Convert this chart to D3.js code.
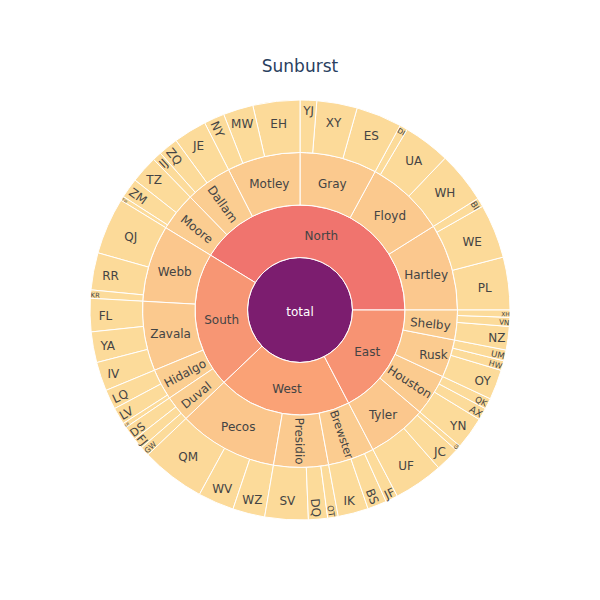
<!DOCTYPE html>
<html>
<head>
<meta charset="utf-8">
<script src="https://cdn.jsdelivr.net/npm/d3@7"></script>
<style>
  html, body { margin: 0; padding: 0; background: #fff; }
  svg { display: block; }
</style>
</head>
<body>
<svg id="chart" width="600" height="600"></svg>
<script>
// ---------------- data ----------------
const titleText = "Sunburst";
const rootLabel = "total";
const rootColor = 1.0;

const regions = ["North", "South", "West", "East"];
const regionColor = [0.333, 0.215, 0.175, 0.225];

const counties = ["Hartley", "Floyd", "Gray", "Motley", "Dallam", "Moore",
                  "Webb", "Zavala", "Hidalgo", "Duval",
                  "Pecos", "Presidio", "Brewster",
                  "Tyler", "Houston", "Rusk", "Shelby"];
const countyRegion = ["North", "North", "North", "North", "North", "North",
                      "South", "South", "South", "South",
                      "West", "West", "West",
                      "East", "East", "East", "East"];
const countyColor = [0.062, 0.060, 0.060, 0.055, 0.050, 0.048,
                     0.065, 0.060, 0.047, 0.042,
                     0.068, 0.058, 0.052,
                     0.066, 0.055, 0.055, 0.050];

const leaves = ["PL", "WE", "BI", "WH", "UA", "DI", "ES", "XY", "YJ",
                "EH", "MW", "NY", "JE", "ZQ", "IJ", "TZ", "ZM", "TW",
                "QJ", "RR", "KR", "FL", "YA", "IV", "LQ", "LV", "LR",
                "DS", "FJ", "GW", "QM", "WV", "WZ", "SV", "DQ", "OT",
                "IK", "BS", "JF", "UF", "JC", "GI", "YN", "AX", "QK",
                "OY", "HW", "UM", "NZ", "VN", "XH"];
const leafCounty = ["Hartley", "Hartley", "Hartley", "Floyd", "Floyd", "Floyd", "Gray", "Gray", "Gray",
                    "Motley", "Motley", "Motley", "Dallam", "Dallam", "Dallam", "Moore", "Moore", "Moore",
                    "Webb", "Webb", "Webb", "Zavala", "Zavala", "Zavala", "Hidalgo", "Hidalgo", "Hidalgo",
                    "Duval", "Duval", "Duval", "Pecos", "Pecos", "Pecos", "Presidio", "Presidio", "Presidio",
                    "Brewster", "Brewster", "Brewster", "Tyler", "Tyler", "Tyler", "Houston", "Houston", "Houston",
                    "Rusk", "Rusk", "Rusk", "Shelby", "Shelby", "Shelby"];
const leafValues = [14.6, 15.0, 2.5, 14.2, 13.0, 2.2, 12.7, 11.2, 4.6,
                    13.0, 8.3, 5.7, 9.2, 5.5, 2.5, 7.6, 5.5, 1.2,
                    15.7, 10.3, 2.3, 9.2, 8.5, 8.0, 5.5, 4.7, 1.3,
                    4.0, 3.0, 2.6, 17.8, 10.0, 8.9, 12.0, 5.3, 2.9,
                    8.4, 5.3, 3.4, 13.7, 6.8, 1.5, 9.0, 3.4, 3.0,
                    8.3, 2.7, 3.0, 6.5, 2.5, 2.0];
const leafColor = [0.012, 0.012, 0.008, 0.012, 0.012, 0.008, 0.012, 0.011, 0.009,
                   0.012, 0.010, 0.009, 0.010, 0.009, 0.008, 0.010, 0.009, 0.008,
                   0.012, 0.011, 0.008, 0.010, 0.010, 0.010, 0.009, 0.009, 0.008,
                   0.009, 0.008, 0.008, 0.013, 0.011, 0.010, 0.012, 0.009, 0.008,
                   0.010, 0.009, 0.008, 0.012, 0.010, 0.008, 0.010, 0.009, 0.008,
                   0.010, 0.008, 0.008, 0.009, 0.008, 0.008];

const colorStops = ["#fcde9c", "#faa476", "#f0746e", "#e34f6f", "#dc3977", "#b9257a", "#7c1d6f"];

// ---------------- layout ----------------
const cx = 300, cy = 310, R = 210;
const FONT = '"DejaVu Sans", Verdana, sans-serif';
const TEXTPAD = 3;

const svg = d3.select("#chart");

const tree = {
  name: rootLabel, metric: rootColor,
  children: regions.map((rg, i) => ({
    name: rg, metric: regionColor[i],
    children: counties.map((c, j) => ({ c, j }))
      .filter(o => countyRegion[o.j] === rg)
      .map(o => ({
        name: o.c, metric: countyColor[o.j],
        children: leaves.map((l, k) => ({ l, k }))
          .filter(p => leafCounty[p.k] === o.c)
          .map(p => ({ name: p.l, metric: leafColor[p.k], value: leafValues[p.k] }))
      }))
  }))
};

const hier = d3.hierarchy(tree).sum(d => d.value || 0);
const root = d3.partition().size([2 * Math.PI, 4])(hier);

const rScale = d3.scaleLinear().domain([0, 4]).range([0, R]);
const color = d3.scaleLinear()
  .domain(colorStops.map((_, i) => i / (colorStops.length - 1)))
  .range(colorStops)
  .interpolate(d3.interpolateRgb);

// angles: partition x is counter-clockwise from 3 o'clock
const arc = d3.arc()
  .startAngle(d => Math.PI / 2 - d.x0)
  .endAngle(d => Math.PI / 2 - d.x1)
  .innerRadius(d => rScale(d.y0))
  .outerRadius(d => rScale(d.y1));

const g = svg.append("g").attr("transform", `translate(${cx},${cy})`);

g.selectAll("path.slice")
  .data(root.descendants())
  .join("path")
  .attr("class", "slice")
  .attr("d", arc)
  .attr("fill", d => color(d.data.metric))
  .attr("stroke", "#fff")
  .attr("stroke-width", 1);

function contrast(c) {
  const rgb = d3.rgb(c);
  const br = (rgb.r * 299 + rgb.g * 587 + rgb.b * 114) / 1000;
  return br < 128 ? "#fff" : "#444";
}
function maxHalf(a, half, r, ring) {
  const q = a + 1 / (2 * Math.tan(half));
  return r * Math.min(1 / (Math.sqrt(q * q + 0.5) + q), ring / (Math.sqrt(a * a + ring / 2) + a));
}
function calcRotate(deg) { return ((deg + 720) % 180) - 90; }

const labels = g.append("g");
root.descendants().forEach(d => {
  const fill = color(d.data.metric);
  const t = labels.append("text")
    .text(d.data.name)
    .attr("font-family", FONT)
    .attr("font-size", 12)
    .attr("fill", contrast(fill));
  const bb = t.node().getBBox();
  const rpx0 = rScale(d.y0), rpx1 = rScale(d.y1);
  const span = d.x1 - d.x0;
  const full = Math.abs(span - 2 * Math.PI) < 1e-9;
  const half = 0.5 * Math.min(span || Math.PI, Math.PI);
  const ring = 1 - rpx0 / rpx1;
  const rIns = (rpx0 === 0 && full) ? 1 : Math.max(0, Math.min(1 / (1 + 1 / Math.sin(half)), ring / 2));
  const mid = (d.x0 + d.x1) / 2;
  const alphaDeg = 90 - mid * 180 / Math.PI;
  const diam = Math.hypot(bb.width, bb.height);
  let best = { scale: rIns * rpx1 * 2 / diam, rCenter: 1 - rIns, rotate: 0 };
  if (!(best.scale >= 1)) {
    const list = [best];
    const rr = Math.max(0, rpx1 - 2 * TEXTPAD);
    let a = bb.width / bb.height;
    let s = maxHalf(a, half, rr, ring);
    list.push({ scale: 2 * s / bb.height, rCenter: Math.cos(s / rr) - a * s / rr, rotate: calcRotate(alphaDeg) });
    a = bb.height / bb.width;
    s = maxHalf(a, half, rr, ring);
    list.push({ scale: 2 * s / bb.width, rCenter: Math.cos(s / rr) - a * s / rr, rotate: calcRotate(alphaDeg + 90) });
    let m = 0; best = list[0];
    list.forEach(o => { if (m < o.scale) { m = o.scale; best = o; } });
  }
  const rp = rpx1 * best.rCenter;
  const x = rp * Math.cos(mid), y = -rp * Math.sin(mid);
  const sc = Math.min(1, best.scale);
  t.attr("transform",
    `translate(${x},${y}) rotate(${best.rotate}) scale(${sc}) translate(${-(bb.x + bb.width / 2)},${-(bb.y + bb.height / 2) + 1.5})`);
});

svg.append("text")
  .attr("x", 300)
  .attr("y", 72)
  .attr("text-anchor", "middle")
  .attr("font-family", FONT)
  .attr("font-size", 17)
  .attr("fill", "#2a3f5f")
  .text(titleText);
</script>
</body>
</html>
